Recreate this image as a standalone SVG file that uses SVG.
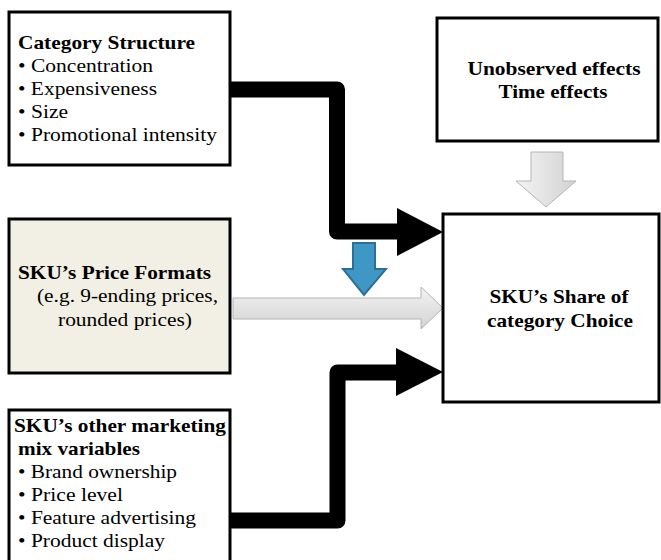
<svg xmlns="http://www.w3.org/2000/svg" width="661" height="560" viewBox="0 0 661 560">
  <defs>
    <style>
      .box { fill: #ffffff; stroke: #000000; stroke-width: 3; }
      .beige { fill: #f2efe4; }
      .t { font-size: 19px; fill: #000000; }
      .b { font-weight: bold; }
      .mid { text-anchor: middle; }
      .pipe { fill: none; stroke: #000000; stroke-width: 16; stroke-linejoin: round; }
      .head { fill: #000000; }
      .grey { fill: url(#greyFill); stroke: #b4b4b4; stroke-width: 1; }
      .blue { fill: #3f97c5; stroke: #2a6f96; stroke-width: 2; }
    </style>
    <linearGradient id="greyFill" x1="0" y1="0" x2="0" y2="1">
      <stop offset="0" stop-color="#f4f4f4"/>
      <stop offset="1" stop-color="#d2d2d2"/>
    </linearGradient>
    <linearGradient id="greyFillV" x1="0" y1="0" x2="1" y2="0">
      <stop offset="0" stop-color="#f4f4f4"/>
      <stop offset="1" stop-color="#d2d2d2"/>
    </linearGradient>
  </defs>

  <g id="connectors">
    <!-- category structure to share of choice -->
    <path class="pipe" d="M230,89.5 H337 V231.5 H400"/>
    <polygon class="head" points="397,208 443,232 397,256"/>
    <!-- other marketing mix to share of choice -->
    <path class="pipe" d="M230,520.5 H337.5 V372.5 H400"/>
    <polygon class="head" points="396,348 443,372 396,396"/>
    <!-- price formats to share of choice -->
    <polygon class="grey" points="233,298 421,298 421,287 443,308 421,329 421,319 233,319"/>
    <!-- unobserved / time effects down to share of choice -->
    <polygon class="grey" style="fill:url(#greyFillV)" points="531,152 563,152 563,181 576,181 546,207 516,181 531,181"/>
    <!-- moderating effect of category structure -->
    <polygon class="blue" points="353,243 375,243 375,269 386,269 364,295 343,269 353,269"/>
  </g>

  <g font-family="'Liberation Serif', 'Times New Roman', Times, serif">
    <g id="category-structure">
      <rect class="box" x="9" y="12" width="221" height="153"/>
      <text class="t b" x="18" y="49" textLength="177" lengthAdjust="spacingAndGlyphs">Category Structure</text>
      <text class="t" x="18" y="72" textLength="135" lengthAdjust="spacingAndGlyphs">• Concentration</text>
      <text class="t" x="18" y="95" textLength="139" lengthAdjust="spacingAndGlyphs">• Expensiveness</text>
      <text class="t" x="18" y="118" textLength="50" lengthAdjust="spacingAndGlyphs">• Size</text>
      <text class="t" x="18" y="141" textLength="199" lengthAdjust="spacingAndGlyphs">• Promotional intensity</text>
    </g>

    <g id="unobserved-effects">
      <rect class="box" x="437" y="18" width="221" height="123"/>
      <text class="t b mid" x="554" y="75" textLength="173" lengthAdjust="spacingAndGlyphs">Unobserved effects</text>
      <text class="t b mid" x="553" y="98" textLength="109" lengthAdjust="spacingAndGlyphs">Time effects</text>
    </g>

    <g id="price-formats">
      <rect class="box beige" x="9" y="219" width="221" height="154"/>
      <text class="t b" x="18" y="279" textLength="193" lengthAdjust="spacingAndGlyphs">SKU’s Price Formats</text>
      <text class="t" x="37" y="302" textLength="181" lengthAdjust="spacingAndGlyphs">(e.g. 9-ending prices,</text>
      <text class="t" x="58" y="326" textLength="134" lengthAdjust="spacingAndGlyphs">rounded prices)</text>
    </g>

    <g id="share-of-choice">
      <rect class="box" x="443" y="214" width="216" height="188"/>
      <text class="t b mid" x="559" y="303" textLength="139" lengthAdjust="spacingAndGlyphs">SKU’s Share of</text>
      <text class="t b mid" x="560" y="327" textLength="146" lengthAdjust="spacingAndGlyphs">category Choice</text>
    </g>

    <g id="marketing-mix">
      <rect class="box" x="9" y="410" width="221" height="165"/>
      <text class="t b" x="14" y="432" textLength="212" lengthAdjust="spacingAndGlyphs">SKU’s other marketing</text>
      <text class="t b" x="18" y="455" textLength="122" lengthAdjust="spacingAndGlyphs">mix variables</text>
      <text class="t" x="18" y="478" textLength="159" lengthAdjust="spacingAndGlyphs">• Brand ownership</text>
      <text class="t" x="18" y="501" textLength="105" lengthAdjust="spacingAndGlyphs">• Price level</text>
      <text class="t" x="18" y="524" textLength="178" lengthAdjust="spacingAndGlyphs">• Feature advertising</text>
      <text class="t" x="18" y="547" textLength="147" lengthAdjust="spacingAndGlyphs">• Product display</text>
    </g>
  </g>
</svg>
